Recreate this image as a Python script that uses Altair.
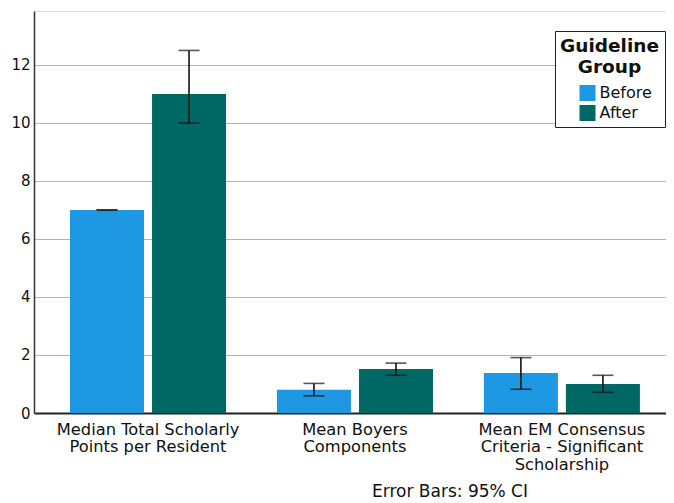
import altair as alt
import pandas as pd

categories = [
    "Median Total Scholarly|Points per Resident",
    "Mean Boyers|Components",
    "Mean EM Consensus|Criteria - Significant|Scholarship",
]
groups = ["Before", "After"]
before_values = [7.0, 0.80, 1.38]
after_values = [11.0, 1.52, 1.00]
before_lower = [7.0, 0.59, 0.82]
before_upper = [7.0, 1.02, 1.91]
after_lower = [10.0, 1.30, 0.71]
after_upper = [12.5, 1.72, 1.30]
colors = ["#1E98E3", "#006864"]
footer = "Error Bars: 95% CI"

rows = []
for i, c in enumerate(categories):
    rows.append({"cat": c, "group": "Before", "value": before_values[i],
                 "lo": before_lower[i], "hi": before_upper[i]})
    rows.append({"cat": c, "group": "After", "value": after_values[i],
                 "lo": after_lower[i], "hi": after_upper[i]})
df = pd.DataFrame(rows)

FONT = "DejaVu Sans"

x_enc = alt.X("cat:N", sort=categories, title=None,
              scale=alt.Scale(paddingInner=0.246, paddingOuter=0.15, align=0.58),
              axis=alt.Axis(labelExpr="split(datum.label, '|')", labelAngle=0,
                            labelFontSize=16.3, labelLineHeight=17.5, labelPadding=8,
                            labelLimit=400,
                            ticks=False, domainColor="#222222", domainWidth=2,
                            labelColor="#111111", labelFont=FONT, grid=False))
xoff = alt.XOffset("group:N", sort=groups,
                   scale=alt.Scale(paddingInner=0.0976, paddingOuter=0))
y_scale = alt.Scale(domain=[0, 13.86], nice=False)

base = alt.Chart(df)

bars = base.mark_bar().encode(
    x=x_enc,
    xOffset=xoff,
    y=alt.Y("value:Q", scale=y_scale, title=None,
            axis=alt.Axis(values=[0, 2, 4, 6, 8, 10, 12], ticks=False,
                          labelPadding=4, labelFontSize=15, labelFont=FONT,
                          labelColor="#111111", domainColor="#333333",
                          domainWidth=1.5, gridColor="#b4b4b4", gridWidth=1.2)),
    color=alt.Color("group:N", sort=groups,
                    scale=alt.Scale(domain=groups, range=colors),
                    legend=alt.Legend(
                        title=["Guideline", "Group"], orient="none",
                        legendX=521, legendY=20,
                        titleFont=FONT, titleFontSize=18.5, titleFontWeight="bold",
                        titleColor="#111111", titleAlign="center",
                        titleAnchor="middle", titleLineHeight=21, titlePadding=9,
                        labelFont=FONT, labelFontSize=16, labelColor="#111111",
                        symbolType="square", symbolSize=256, symbolStrokeWidth=0,
                        symbolOffset=12, rowPadding=4, labelOffset=4,
                        strokeColor="#222222", fillColor="white", padding=5.5,
                        cornerRadius=0)),
)

whisk = base.mark_rule(color="#111111", strokeWidth=1.6).encode(
    x=alt.X("cat:N", sort=categories),
    xOffset=xoff,
    y=alt.Y("lo:Q", scale=y_scale),
    y2="hi:Q",
)
cap_lo = base.mark_tick(color="#111111", thickness=1.6, size=21).encode(
    x=alt.X("cat:N", sort=categories), xOffset=xoff,
    y=alt.Y("lo:Q", scale=y_scale))
cap_hi = base.mark_tick(color="#111111", thickness=1.6, size=21).encode(
    x=alt.X("cat:N", sort=categories), xOffset=xoff,
    y=alt.Y("hi:Q", scale=y_scale))

foot = alt.Chart(pd.DataFrame({"t": [footer]})).mark_text(
    font=FONT, fontSize=17, color="#111111", align="center", baseline="middle"
).encode(x=alt.value(416), y=alt.value(481), text="t:N")

chart = alt.layer(bars, whisk, cap_lo, cap_hi, foot).properties(
    width=632, height=402,
    autosize=alt.AutoSizeParams(type="none"),
    padding={"left": 26, "top": 3, "right": 0, "bottom": 90},
).configure_view(stroke=None).configure(background="white")

chart.save("out.html", embed_options={"renderer": "svg", "actions": False})
